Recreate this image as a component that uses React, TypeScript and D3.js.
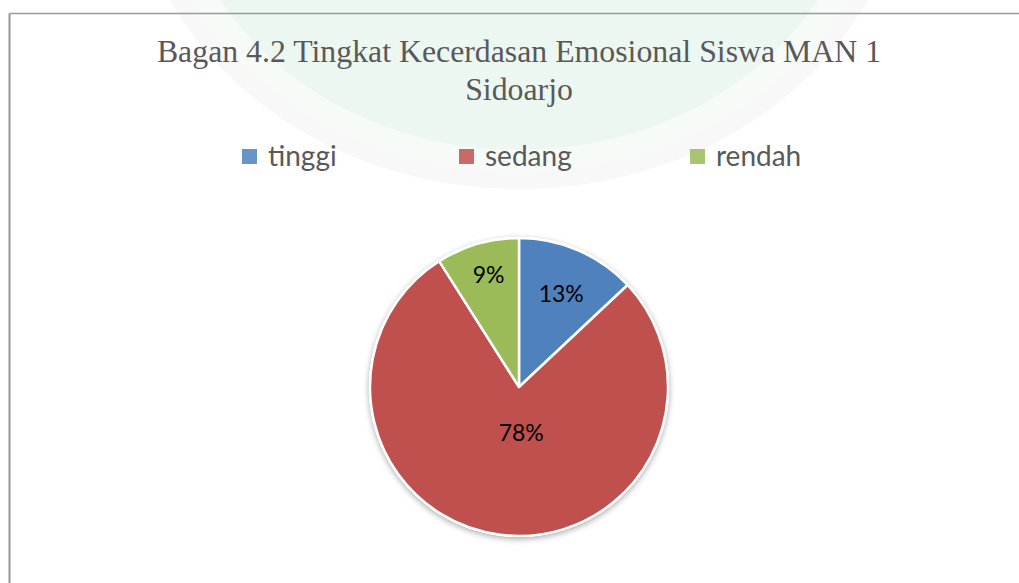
import React from "react";
import * as d3 from "d3";

const categories = ["tinggi", "sedang", "rendah"];
const values = [13, 78, 9];
const labels = ["13%", "78%", "9%"];
const colors = ["#4F81BD", "#C0504D", "#9BBB59"];
const titleLines = ["Bagan 4.2 Tingkat Kecerdasan Emosional Siswa MAN 1", "Sidoarjo"];

const W = 1019;
const H = 583;

export default function App() {
  const cx = 519;
  const cy = 387;
  const r = 149;
  const pie = d3.pie<number>().sort(null).value((d) => d)(values);
  const arc = d3.arc<d3.PieArcDatum<number>>().innerRadius(0).outerRadius(r);
  const labelArcs = [0.68, 0.31, 0.78].map((f) =>
    d3.arc<d3.PieArcDatum<number>>().innerRadius(r * f).outerRadius(r * f)
  );
  const legendX = d3.scaleOrdinal<string, number>().domain(categories).range([242, 459, 690]);

  return (
    <svg width={W} height={H} style={{ position: "absolute", left: 0, top: 0, background: "#fff" }}>
      <defs>
        <filter id="shadow" x="-20%" y="-20%" width="140%" height="140%">
          <feGaussianBlur in="SourceAlpha" stdDeviation="3" />
          <feOffset dx="0" dy="2" result="b" />
          <feComponentTransfer>
            <feFuncA type="linear" slope="0.35" />
          </feComponentTransfer>
          <feMerge>
            <feMergeNode />
            <feMergeNode in="SourceGraphic" />
          </feMerge>
        </filter>
      </defs>
      {/* faint watermark */}
      <ellipse cx={519} cy={-150} rx={380} ry={330} fill="#f6fbf8" />
      <ellipse cx={519} cy={-150} rx={380} ry={330} fill="none" stroke="#f8f8f8" strokeWidth={18} />
      <ellipse cx={519} cy={-150} rx={345} ry={300} fill="#edf7f1" />
      {/* frame */}
      <line x1={9.5} y1={13.5} x2={W} y2={13.5} stroke="#9a9a9a" strokeWidth={1.5} />
      <line x1={9.5} y1={13.5} x2={9.5} y2={H} stroke="#959595" strokeWidth={2} />

      {titleLines.map((t, i) => (
        <text
          key={i}
          x={519}
          y={62 + i * 38}
          textAnchor="middle"
          fontFamily="'Liberation Serif', 'DejaVu Serif', serif"
          fontSize={31.8}
          fill="#595959"
        >
          {t}
        </text>
      ))}

      {categories.map((c, i) => (
        <g key={c} transform={`translate(${legendX(c)},0)`}>
          <rect x={0} y={149} width={15} height={15} fill={colors[i]} opacity={0.85} />
          <text x={26} y={166} fontFamily="Lato, 'Open Sans', sans-serif" fontSize={28} fill="#595959">
            {c}
          </text>
        </g>
      ))}

      <g transform={`translate(${cx},${cy})`}>
        <circle r={r + 1} fill="#fff" filter="url(#shadow)" />
        {pie.map((p, i) => (
          <path key={i} d={arc(p) || ""} fill={colors[i]} stroke="#fff" strokeWidth={2.5} strokeLinejoin="round" />
        ))}
        {pie.map((p, i) => {
          const [lx, ly] = labelArcs[i].centroid(p);
          return (
            <text
              key={"l" + i}
              x={lx}
              y={ly}
              dx={i === 1 ? 8 : 2}
              dy="0.35em"
              textAnchor="middle"
              fontFamily="Lato, 'Open Sans', sans-serif"
              fontSize={23}
              fill="#000"
            >
              {labels[i]}
            </text>
          );
        })}
      </g>
    </svg>
  );
}
